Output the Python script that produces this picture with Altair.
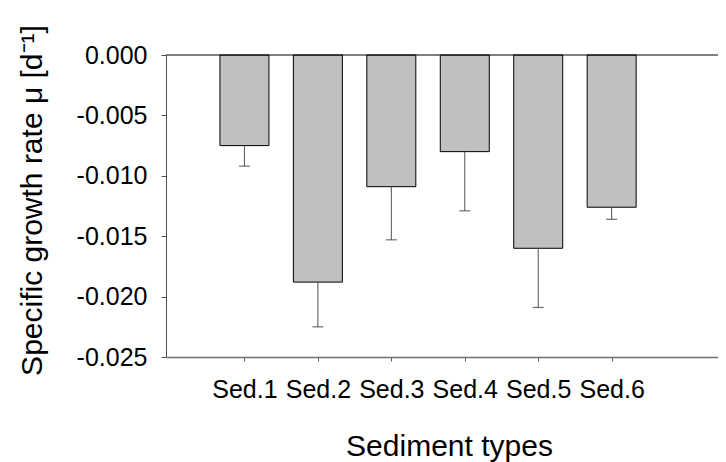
import altair as alt
import pandas as pd

categories = ["Sed.1", "Sed.2", "Sed.3", "Sed.4", "Sed.5", "Sed.6"]
positions = [1, 2, 3, 4, 5, 6]
means = [-0.0075, -0.0188, -0.0109, -0.0080, -0.0160, -0.0126]
lows = [-0.0092, -0.0225, -0.0153, -0.0129, -0.0209, -0.0136]
y_ticks = [0.0, -0.005, -0.010, -0.015, -0.020, -0.025]

df = pd.DataFrame({"pos": positions, "cat": categories, "mean": means, "low": lows})

W = 552
H = 302
FONT = "Liberation Sans"

xscale = alt.Scale(domain=[0, 7.38], nice=False, zero=False)
yscale = alt.Scale(domain=[-0.025, 0], nice=False)

cat_list = "[" + ",".join("'" + c + "'" for c in categories) + "]"
x_label_expr = f"datum.value >= 1 && datum.value <= {len(categories)} ? {cat_list}[datum.value - 1] : ''"

x_axis = alt.Axis(
    values=positions, labelExpr=x_label_expr, title="Sediment types",
    labelFont=FONT, labelFontSize=25, labelColor="black", labelBaseline="alphabetic",
    labelPadding=36, tickSize=4, tickColor="#606060", domainColor="#707070", domainWidth=1.5,
    titleFont=FONT, titleFontSize=30, titleFontWeight="normal", titleColor="black",
    titleBaseline="alphabetic", titleY=98, titleX=283, titleAlign="center", grid=False,
    labelFlush=False,
)
y_axis = alt.Axis(
    values=y_ticks, labelExpr="replace(format(datum.value, '.3f'), '\u2212', '-')",
    title="Specific growth rate \u03bc [d\u207b\u00b9]",
    labelFont=FONT, labelFontSize=25, labelColor="black", labelPadding=14,
    tickSize=5, tickColor="#505050", domainColor="#505050", domainWidth=1,
    titleFont=FONT, titleFontSize=30, titleFontWeight="normal", titleColor="black",
    titleAngle=270, titleBaseline="alphabetic", titleAlign="center", titleX=-125, titleY=145,
    grid=False, labelFlush=False,
)

base = alt.Chart(df)

bars = base.mark_bar(size=49, fill="#c0c0c0", stroke="black", strokeWidth=1).encode(
    x=alt.X("pos:Q", scale=xscale, axis=x_axis),
    y=alt.Y("mean:Q", scale=yscale, axis=y_axis),
    y2=alt.datum(0),
)

err = base.mark_rule(color="#505050", strokeWidth=1).encode(
    x=alt.X("pos:Q", scale=xscale, axis=x_axis),
    y=alt.Y("mean:Q", scale=yscale, axis=y_axis),
    y2="low:Q",
)

caps = base.mark_tick(color="#303030", thickness=1.2, size=11, orient="horizontal").encode(
    x=alt.X("pos:Q", scale=xscale, axis=x_axis),
    y=alt.Y("low:Q", scale=yscale, axis=y_axis),
)

zero_line = alt.Chart(pd.DataFrame({"z": [0.0]})).mark_rule(color="black", strokeWidth=1).encode(
    y=alt.Y("z:Q", scale=yscale, axis=y_axis),
    x=alt.value(0),
    x2=alt.value(W),
)

chart = alt.layer(bars, err, caps, zero_line).properties(
    width=W, height=H,
    autosize=alt.AutoSizeParams(type="none"),
    padding={"left": 158, "top": 47, "right": 0, "bottom": 107},
).configure_view(stroke=None)

chart.save("out.html", embed_options={"renderer": "svg", "actions": False})
